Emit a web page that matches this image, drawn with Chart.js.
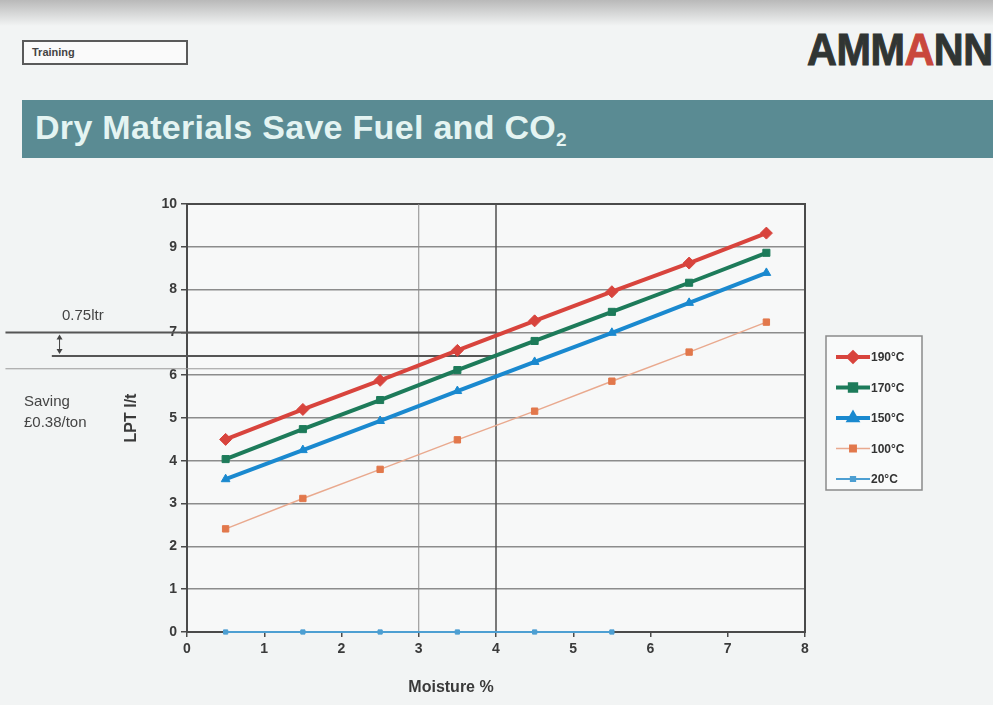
<!DOCTYPE html>
<html>
<head>
<meta charset="utf-8">
<title>Dry Materials Save Fuel and CO2</title>
<script src="https://cdn.jsdelivr.net/npm/chart.js@4.4.0/dist/chart.umd.min.js"></script>
<style>
  html, body { margin: 0; padding: 0; }
  body {
    width: 993px; height: 705px; overflow: hidden; position: relative;
    background: #f2f4f4; font-family: "Liberation Sans", Arial, sans-serif;
  }
  #shade { position: absolute; left: 0; top: 0; width: 993px; height: 26px;
    background: linear-gradient(#b9b9b9, rgba(242,244,244,0)); }
  #training { position: absolute; left: 22px; top: 40px; width: 154px; height: 21px;
    border: 2px solid #5a5a5a; background: #fafafa; font-weight: bold; font-size: 11px;
    color: #444; line-height: 21px; padding-left: 8px; box-sizing: content-box; }
  #logo { position: absolute; left: 807px; top: 25px; font-weight: bold; font-size: 44px;
    color: #303533; transform: scaleX(0.94); transform-origin: left top; letter-spacing: -0.5px;
    -webkit-text-stroke: 1px #303533; }
  #logo span { color: #c9473c; -webkit-text-stroke: 1px #c9473c; }
  #banner { position: absolute; left: 22px; top: 100px; width: 971px; height: 58px;
    background: #5a8b93; }
  #banner h1 { margin: 0; position: absolute; left: 13px; top: 8px; font-size: 34px;
    font-weight: bold; color: #e4f4f2; letter-spacing: 0.3px; }
  #banner sub { font-size: 19px; vertical-align: -7px; }
  canvas { position: absolute; left: 0; top: 0; }
  .note { position: absolute; font-size: 15px; color: #444; }
</style>
</head>
<body>
<div id="shade"></div>
<div id="training">Training</div>
<div id="logo">AMM<span>A</span>NN</div>
<div id="banner"><h1>Dry Materials Save Fuel and CO<sub>2</sub></h1></div>
<canvas id="fuelChart" width="993" height="705"></canvas>
<div class="note" style="left:62px; top:306px;">0.75ltr</div>
<div class="note" style="left:24px; top:390px; line-height:21px;">Saving<br>£0.38/ton</div>
<script>
// moisture % (x) and fuel use LPT l/t (y) per drying temperature
const moisture = [0.5, 1.5, 2.5, 3.5, 4.5, 5.5, 6.5, 7.5];
const t190 = [4.5, 5.2, 5.88, 6.58, 7.27, 7.95, 8.62, 9.32];
const t170 = [4.04, 4.74, 5.42, 6.12, 6.8, 7.48, 8.16, 8.86];
const t150 = [3.57, 4.25, 4.93, 5.63, 6.31, 6.99, 7.69, 8.39];
const t100 = [2.41, 3.12, 3.8, 4.49, 5.16, 5.86, 6.54, 7.24];
const t20 = [0, 0, 0, 0, 0, 0];
const seriesNames = ['190°C', '170°C', '150°C', '100°C', '20°C'];
const xTicks = [0, 1, 2, 3, 4, 5, 6, 7, 8];
const yTicks = [0, 1, 2, 3, 4, 5, 6, 7, 8, 9, 10];

// hand-drawn marker lines on the slide (in axis units)
const markerX = [3, 4];
const markerY = [7, 6.45, 6.15];
const markerYFrom = [-2.35, -1.75, -2.35];
const markerYTo = [4, 4, 3];

const pts = ys => ys.map((v, i) => ({ x: moisture[i], y: v }));

const styles = [
  { color: '#d8443d', point: 'rectRot', r: 6, w: 4 },
  { color: '#1d7b5a', point: 'rect', r: 5, w: 4 },
  { color: '#1a89cf', point: 'triangle', r: 5, w: 4 },
  { color: '#e2784c', line: '#e9a98e', point: 'rect', r: 4.5, w: 1.5 },
  { color: '#4d9fd2', point: 'rect', r: 3, w: 2 }
];
const values = [t190, t170, t150, t100, t20];

const datasets = values.map((v, i) => ({
  label: seriesNames[i],
  data: pts(v),
  borderColor: styles[i].line || styles[i].color,
  backgroundColor: styles[i].color,
  pointBackgroundColor: styles[i].color,
  pointBorderColor: styles[i].color,
  borderWidth: styles[i].w,
  pointStyle: styles[i].point,
  pointRadius: styles[i].r,
  pointBorderWidth: 1,
  tension: 0,
  clip: false
}));

const extras = {
  id: 'extras',
  beforeDraw(chart) {
    const { ctx, chartArea: a } = chart;
    ctx.save();
    ctx.fillStyle = '#f7f8f8';
    ctx.fillRect(a.left, a.top, a.right - a.left, a.bottom - a.top);
    ctx.restore();
  },
  beforeDatasetsDraw(chart) {
    const { ctx, chartArea: a, scales: { x, y } } = chart;
    ctx.save();
    // plot frame
    ctx.strokeStyle = '#4a4a4a'; ctx.lineWidth = 2;
    ctx.strokeRect(a.left, a.top, a.right - a.left, a.bottom - a.top);
    markerX.forEach((v, i) => {
      ctx.strokeStyle = i === 0 ? '#8a8a8a' : '#4f4f4f';
      ctx.lineWidth = i === 0 ? 1 : 1.5;
      const px = x.getPixelForValue(v);
      ctx.beginPath(); ctx.moveTo(px, a.top); ctx.lineTo(px, a.bottom); ctx.stroke();
    });
    markerY.forEach((v, i) => {
      ctx.strokeStyle = i === 2 ? '#999' : '#555';
      ctx.lineWidth = i === 2 ? 1 : 2;
      const py = y.getPixelForValue(v);
      ctx.beginPath();
      ctx.moveTo(x.getPixelForValue(markerYFrom[i]), py);
      ctx.lineTo(x.getPixelForValue(markerYTo[i]), py);
      ctx.stroke();
    });
    // small double arrow for the 0.75 ltr gap
    const ax = x.getPixelForValue(-1.65);
    const y1 = y.getPixelForValue(markerY[0]) + 2, y2 = y.getPixelForValue(markerY[1]) - 2;
    ctx.strokeStyle = '#444'; ctx.fillStyle = '#444'; ctx.lineWidth = 1;
    ctx.beginPath(); ctx.moveTo(ax, y1 + 3); ctx.lineTo(ax, y2 - 3); ctx.stroke();
    ctx.beginPath(); ctx.moveTo(ax, y1); ctx.lineTo(ax - 3, y1 + 5); ctx.lineTo(ax + 3, y1 + 5); ctx.fill();
    ctx.beginPath(); ctx.moveTo(ax, y2); ctx.lineTo(ax - 3, y2 - 5); ctx.lineTo(ax + 3, y2 - 5); ctx.fill();
    ctx.restore();
  },
  afterDraw(chart) {
    const { ctx } = chart;
    ctx.save();
    // x axis title
    ctx.fillStyle = '#3a3a3a';
    ctx.font = 'bold 16px "Liberation Sans", Arial, sans-serif';
    ctx.textAlign = 'center'; ctx.textBaseline = 'middle';
    ctx.fillText('Moisture %', 451, 688);
    // legend
    const lx = 826, ly = 336, lw = 96, lh = 154;
    ctx.fillStyle = '#f9fafa'; ctx.fillRect(lx, ly, lw, lh);
    ctx.strokeStyle = '#8a8a8a'; ctx.lineWidth = 1.5; ctx.strokeRect(lx, ly, lw, lh);
    ctx.font = 'bold 12px "Liberation Sans", Arial, sans-serif';
    ctx.textAlign = 'left';
    chart.data.datasets.forEach((ds, i) => {
      const cy = ly + 21 + i * 30.5;
      ctx.strokeStyle = ds.borderColor; ctx.lineWidth = ds.borderWidth;
      ctx.beginPath(); ctx.moveTo(lx + 10, cy); ctx.lineTo(lx + 44, cy); ctx.stroke();
      ctx.fillStyle = ds.pointBackgroundColor; ctx.strokeStyle = ds.pointBorderColor;
      Chart.helpers.drawPoint(ctx, { pointStyle: ds.pointStyle, radius: Math.min(ds.pointRadius, 4.5), borderWidth: 1, rotation: 0 }, lx + 27, cy);
      ctx.fillStyle = '#333';
      ctx.fillText(ds.label, lx + 45, cy + 1);
    });
    ctx.restore();
  }
};

const tickFont = { family: '"Liberation Sans", Arial, sans-serif', size: 14, weight: 'bold' };

new Chart(document.getElementById('fuelChart').getContext('2d'), {
  type: 'line',
  data: { datasets },
  options: {
    responsive: false,
    animation: false,
    layout: { padding: { left: 120, right: 188, top: 204, bottom: 3 } },
    plugins: { legend: { display: false }, tooltip: { enabled: false } },
    scales: {
      x: {
        type: 'linear', min: 0, max: 8,
        afterBuildTicks: s => { s.ticks = xTicks.map(v => ({ value: v })); },
        afterFit: s => { s.height = 70; },
        grid: { drawOnChartArea: false, color: '#4a4a4a', tickLength: 5, lineWidth: 1.5 },
        border: { display: false },
        ticks: { color: '#3a3a3a', font: tickFont, padding: 4 }
      },
      y: {
        min: 0, max: 10,
        afterBuildTicks: s => { s.ticks = yTicks.map(v => ({ value: v })); },
        afterFit: s => { s.width = 67; },
        grid: { color: '#8c8c8c', lineWidth: 1.5, tickLength: 6, tickColor: '#4a4a4a' },
        border: { display: false },
        ticks: { color: '#3a3a3a', font: tickFont, padding: 4 },
        title: { display: true, text: 'LPT l/t', color: '#3a3a3a', padding: { top: 2, bottom: 0 },
          font: { family: '"Liberation Sans", Arial, sans-serif', size: 16, weight: 'bold' } }
      }
    }
  },
  plugins: [extras]
});
</script>
</body>
</html>
